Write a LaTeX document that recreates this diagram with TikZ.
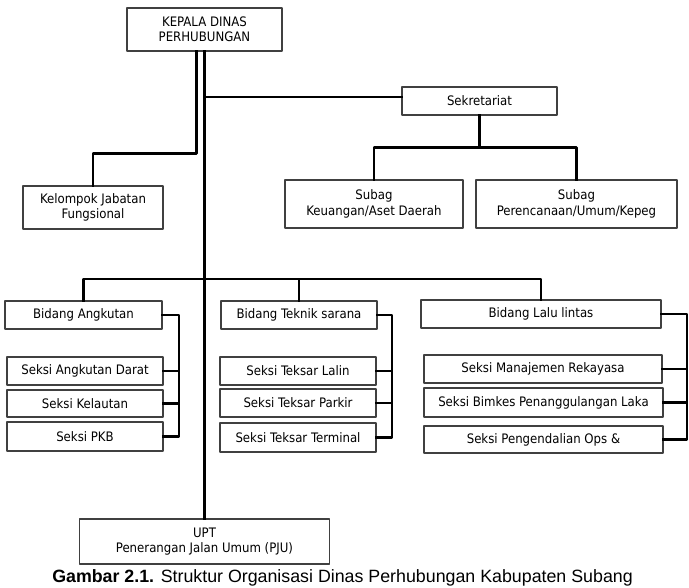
\documentclass[tikz,border=0pt]{standalone}
\usepackage{fontspec}
\newfontfamily\boxfont{DejaVu Sans Condensed}
\newfontfamily\capfont{Liberation Sans}

\begin{document}
\begin{tikzpicture}[line cap=rect,line join=round,x=0.75pt,y=-0.75pt,
	box/.style={draw=black!75,line width=0.8pt,fill=white,inner sep=0pt,align=center,font=\boxfont\fontsize{9.8}{11.5}\selectfont},
	conn/.style={line width=1.6pt,black}]
		\useasboundingbox (0,0) rectangle (689,587);
		% kepala dan staf
		\node[box,minimum width=116.25pt,minimum height=32.25pt] (kepala) at (204.5,29.5) {KEPALA DINAS\\PERHUBUNGAN};
		\node[box,minimum width=105pt,minimum height=32.25pt] (kelompok) at (93,207.5) {Kelompok Jabatan\\Fungsional};
		\node[box,minimum width=116.25pt,minimum height=21pt] (sekretariat) at (479.5,101) {Sekretariat};
		\node[box,minimum width=133.5pt,minimum height=36pt] (keuangan) at (374,204) {Subag\\Keuangan/Aset Daerah};
		\node[box,minimum width=150.75pt,minimum height=36pt] (perencanaan) at (576.5,204) {Subag\\Perencanaan/Umum/Kepeg};
		% bidang angkutan
		\node[box,minimum width=117.75pt,minimum height=21pt] (angkutan) at (83.5,315) {Bidang Angkutan};
		\node[box,minimum width=117pt,minimum height=21pt] (darat) at (85,371) {Seksi Angkutan Darat};
		\node[box,minimum width=117pt,minimum height=20.25pt] (kelautan) at (85,403.5) {Seksi Kelautan};
		\node[box,minimum width=117pt,minimum height=21.75pt] (pkb) at (85,436.5) {Seksi PKB};
		% bidang teknik sarana
		\node[box,minimum width=117pt,minimum height=21pt] (teknik) at (299,315) {Bidang Teknik sarana};
		\node[box,minimum width=117pt,minimum height=21pt] (lalin) at (298,371) {Seksi Teksar Lalin};
		\node[box,minimum width=117pt,minimum height=21pt] (parkir) at (298,403) {Seksi Teksar Parkir};
		\node[box,minimum width=117pt,minimum height=21.75pt] (terminal) at (298,437.5) {Seksi Teksar Terminal};
		% bidang lalu lintas
		\node[box,minimum width=180pt,minimum height=21pt] (lalulintas) at (541,314) {Bidang Lalu lintas};
		\node[box,minimum width=178.5pt,minimum height=21pt] (manajemen) at (543,369) {Seksi Manajemen Rekayasa};
		\node[box,minimum width=179.25pt,minimum height=21.75pt] (bimkes) at (543.5,402.5) {Seksi Bimkes Penanggulangan Laka};
		\node[box,minimum width=179.25pt,minimum height=20.25pt] (pengendalian) at (543.5,439.5) {Seksi Pengendalian Ops \&};
		% upt
		\node[box,minimum width=187.5pt,minimum height=33.75pt] (upt) at (204.5,541.5) {UPT\\Penerangan Jalan Umum (PJU)};
		\coordinate (bus) at (204.5,279);
		\coordinate (braA) at (179,0);
		\coordinate (braB) at (392,0);
		\coordinate (braC) at (687,0);
		% garis
		\draw[conn] (kepala.south) -- (upt.north);
		\draw[conn] ([xshift=-6pt]kepala.south) -- ++(0,102) -| (kelompok.north);
		\draw[conn] (kepala.south |- 0,97) -- (sekretariat.west |- 0,97);
		\draw[conn] (sekretariat.south) -- ++(0,32) -| (keuangan.north);
		\draw[conn] (sekretariat.south) -- ++(0,32) -| (perencanaan.north);
		\draw[conn] (angkutan.north) |- (bus) -| (lalulintas.north);
		\draw[conn] (teknik.north) -- (teknik.north |- bus);
		\draw[conn] (angkutan.east) -- (angkutan.east -| braA) |- (pkb.east);
		\draw[conn] (darat.east) -- (darat.east -| braA);
		\draw[conn] (kelautan.east) -- (kelautan.east -| braA);
		\draw[conn] (teknik.east) -- (teknik.east -| braB) |- (terminal.east);
		\draw[conn] (lalin.east) -- (lalin.east -| braB);
		\draw[conn] (parkir.east) -- (parkir.east -| braB);
		\draw[conn] (lalulintas.east) -- (lalulintas.east -| braC) |- (pengendalian.east);
		\draw[conn] (manajemen.east) -- (manajemen.east -| braC);
		\draw[conn] (bimkes.east) -- (bimkes.east -| braC);
		\node[anchor=north west,inner sep=0pt,font=\capfont\fontsize{13.35}{16}\selectfont] (caption) at (52,569.5) {\textbf{Gambar 2.1.} Struktur Organisasi Dinas Perhubungan Kabupaten Subang};
\end{tikzpicture}
\end{document}
